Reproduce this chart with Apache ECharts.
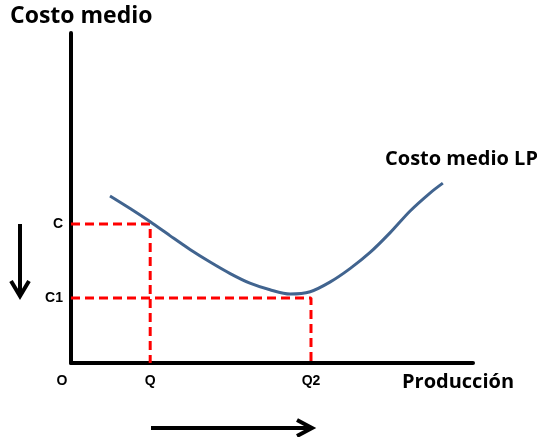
<!DOCTYPE html>
<html>
<head>
<meta charset="utf-8">
<script src="https://cdn.jsdelivr.net/npm/echarts@6/dist/echarts.min.js"></script>
<style>
  html, body { margin: 0; padding: 0; background: #fff; }
  #chart { width: 537px; height: 437px; }
</style>
</head>
<body>
<div id="chart"></div>
<script>
// curva de costo medio a largo plazo (producción, costo)
const curveX = [9.7, 14.7, 19.7, 24.6, 29.6, 34.6, 39.6, 44.5, 49.5, 54.5, 59.5, 64.4, 69.4, 74.4, 79.4, 84.3, 89.3, 92.5];
const curveY = [50.6, 46.8, 42.8, 38.6, 34.4, 30.6, 27.1, 24.2, 22.2, 20.9, 21.6, 24.5, 28.6, 33.5, 39.5, 46.0, 51.5, 54.5];

// niveles marcados
const costLevels = [42.1, 19.7];      // C, C1
const costLabels = ['C', 'C1'];
const qtyLevels = [0, 19.7, 59.7];    // O, Q, Q2
const qtyLabels = ['O', 'Q', 'Q2'];

const chart = echarts.init(document.getElementById('chart'));

const labelFont = { fontFamily: 'Liberation Sans', fontWeight: 'bold', fontSize: 14, color: '#000' };
const titleFont = { fontFamily: 'Open Sans', fontWeight: 'bold', color: '#000' };

const dashStyle = { color: '#ff0000', width: 3, type: [9, 5] };

const option = {
    animation: false,
    grid: { left: 71, top: 33, width: 402, height: 330 },
    xAxis: {
        type: 'value',
        min: 0,
        max: 100,
        splitLine: { show: false },
        axisTick: { show: false },
        axisLine: { lineStyle: { color: '#000', width: 4 } },
        axisLabel: {
            customValues: qtyLevels,
            margin: 11,
            formatter: v => {
                const i = qtyLevels.indexOf(v);
                return i === 0 ? '{o|' + qtyLabels[i] + '}' : qtyLabels[i];
            },
            rich: { o: Object.assign({ padding: [0, 18, 0, 0] }, labelFont) },
            ...labelFont
        }
    },
    yAxis: {
        type: 'value',
        min: 0,
        max: 100,
        splitLine: { show: false },
        axisTick: { show: false },
        axisLine: { lineStyle: { color: '#000', width: 4 } },
        axisLabel: {
            customValues: costLevels,
            margin: 8,
            formatter: v => costLabels[costLevels.indexOf(v)],
            ...labelFont
        }
    },
    title: [
        { text: 'Costo medio', left: 10, top: 5, padding: 0, textStyle: { ...titleFont, fontSize: 23 } },
        { text: 'Producción', left: 402, top: 372, padding: 0, textStyle: { ...titleFont, fontSize: 20 } },
        { text: 'Costo medio LP', left: 385, top: 149, padding: 0, textStyle: { ...titleFont, fontSize: 20 } }
    ],
    series: [
        {
            type: 'line',
            data: [[0, costLevels[0]], [qtyLevels[1], costLevels[0]], [qtyLevels[1], 0]],
            symbol: 'none',
            lineStyle: dashStyle,
            z: 1
        },
        {
            type: 'line',
            data: [[0, costLevels[1]], [qtyLevels[2], costLevels[1]], [qtyLevels[2], 0]],
            symbol: 'none',
            lineStyle: dashStyle,
            z: 1
        },
        {
            type: 'line',
            data: curveX.map((x, i) => [x, curveY[i]]),
            smooth: 0.3,
            symbol: 'none',
            lineStyle: { color: '#41648f', width: 3 },
            z: 3
        }
    ],
    graphic: [
        // flecha hacia abajo
        { type: 'line', shape: { x1: 20, y1: 224, x2: 20, y2: 295 }, style: { stroke: '#000', lineWidth: 4 } },
        { type: 'polyline', shape: { points: [[11, 281], [20, 296], [29, 281]] }, style: { stroke: '#000', lineWidth: 4, fill: null } },
        // flecha hacia la derecha
        { type: 'line', shape: { x1: 151, y1: 428, x2: 311, y2: 428 }, style: { stroke: '#000', lineWidth: 4 } },
        { type: 'polyline', shape: { points: [[297, 420], [312, 428], [297, 436]] }, style: { stroke: '#000', lineWidth: 4, fill: null } }
    ]
};

chart.setOption(option);
</script>
</body>
</html>
